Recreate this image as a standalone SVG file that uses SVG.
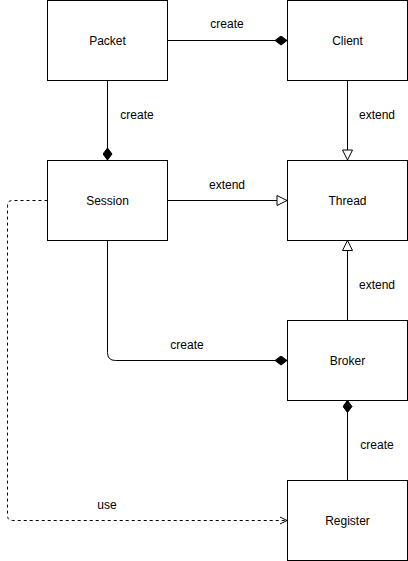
<svg xmlns="http://www.w3.org/2000/svg" width="408" height="561" viewBox="0 0 408 561">
  <style>
    .box { fill: #ffffff; stroke: #000000; stroke-width: 1; }
    .name { font-family: "Liberation Sans", Arial, sans-serif; font-size: 12px; fill: #000000; text-anchor: middle; dominant-baseline: central; }
    .edge { fill: none; stroke: #000000; stroke-width: 1; }
    .dashed { stroke-dasharray: 3 3; }
    .lbl { font-family: "Liberation Sans", Arial, sans-serif; font-size: 12px; fill: #000000; text-anchor: middle; dominant-baseline: central; }
  </style>
  <defs>
    <marker id="diamond" viewBox="0 0 14 10" refX="13" refY="5" markerWidth="14" markerHeight="10" markerUnits="userSpaceOnUse" orient="auto">
      <path d="M1 5 L7 0.5 L13 5 L7 9.5 Z" fill="#000" stroke="#000" stroke-width="1"/>
    </marker>
    <marker id="hollow" viewBox="0 0 12 12" refX="11" refY="6" markerWidth="12" markerHeight="12" markerUnits="userSpaceOnUse" orient="auto">
      <path d="M1 1 L11 6 L1 11 Z" fill="#fff" stroke="#000" stroke-width="1"/>
    </marker>
    <marker id="open" viewBox="0 0 10 10" refX="9" refY="5" markerWidth="10" markerHeight="10" markerUnits="userSpaceOnUse" orient="auto">
      <path d="M2 1.5 L9 5 L2 8.5" fill="none" stroke="#000" stroke-width="1"/>
    </marker>
  </defs>

  <g id="connectors">
    <path class="edge" d="M167.5 40.5 H287" marker-end="url(#diamond)"/>
    <text class="lbl" x="227" y="24">create</text>

    <path class="edge" d="M107.5 80.5 V160" marker-end="url(#diamond)"/>
    <text class="lbl" x="137" y="115">create</text>

    <path class="edge" d="M347.5 80.5 V160" marker-end="url(#hollow)"/>
    <text class="lbl" x="377" y="115">extend</text>

    <path class="edge" d="M167.5 200.5 H287" marker-end="url(#hollow)"/>
    <text class="lbl" x="227" y="185">extend</text>

    <path class="edge" d="M107.5 240.5 V352.5 Q107.5 360.5 115.5 360.5 H287" marker-end="url(#diamond)"/>
    <text class="lbl" x="187" y="345">create</text>

    <path class="edge" d="M347.5 320.5 V240.5" marker-end="url(#hollow)"/>
    <text class="lbl" x="377" y="285">extend</text>

    <path class="edge" d="M347.5 480.5 V400.5" marker-end="url(#diamond)"/>
    <text class="lbl" x="377" y="445">create</text>

    <path class="edge dashed" d="M47.5 200.5 H12.5 Q7.5 200.5 7.5 205.5 V515.5 Q7.5 520.5 12.5 520.5 H287" marker-end="url(#open)"/>
    <text class="lbl" x="107" y="505">use</text>
  </g>

  <g id="packet">
    <rect class="box" x="47.5" y="0.5" width="120" height="80"/>
    <text class="name" x="107.5" y="40.5">Packet</text>
  </g>
  <g id="client">
    <rect class="box" x="287.5" y="0.5" width="120" height="80"/>
    <text class="name" x="347.5" y="40.5">Client</text>
  </g>
  <g id="session">
    <rect class="box" x="47.5" y="160.5" width="120" height="80"/>
    <text class="name" x="107.5" y="200.5">Session</text>
  </g>
  <g id="thread">
    <rect class="box" x="287.5" y="160.5" width="120" height="80"/>
    <text class="name" x="347.5" y="200.5">Thread</text>
  </g>
  <g id="broker">
    <rect class="box" x="287.5" y="320.5" width="120" height="80"/>
    <text class="name" x="347.5" y="360.5">Broker</text>
  </g>
  <g id="register">
    <rect class="box" x="287.5" y="480.5" width="120" height="80"/>
    <text class="name" x="347.5" y="520.5">Register</text>
  </g>
</svg>
